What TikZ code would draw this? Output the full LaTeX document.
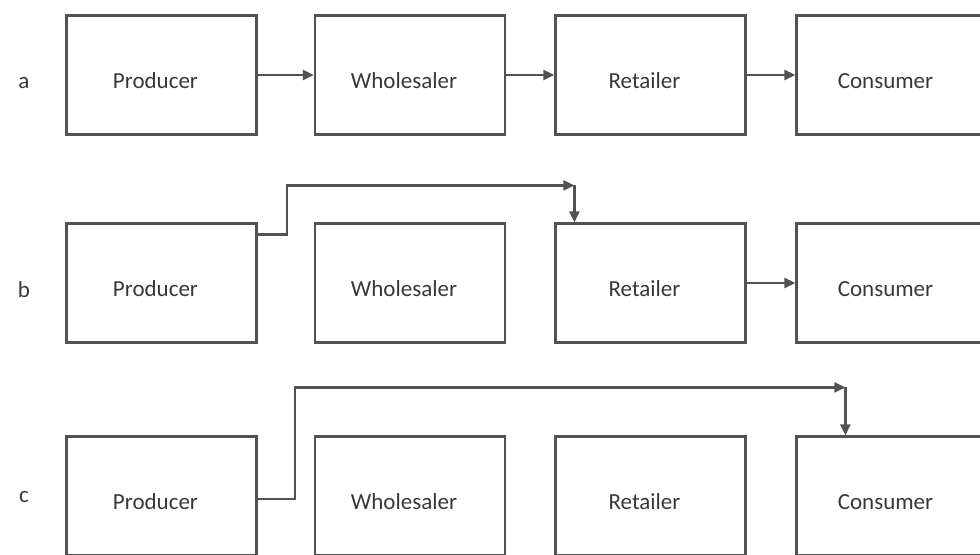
\documentclass[tikz,border=0pt]{standalone}
\usepackage{fontspec}
\setmainfont{Carlito}
\usetikzlibrary{calc, positioning}
\usetikzlibrary{arrows.meta}

\newcommand{\stagename}[1]{\raisebox{-6.5pt}[0pt][0pt]{#1}\kern6pt}

\begin{document}
\begin{tikzpicture}[x=0.5pt,y=0.5pt]
\def\boxwidth{95pt}
\def\boxheight{59.5pt}
\colorlet{chainline}{black!68}
\colorlet{chaintext}{black!78}
\tikzset{
  stagebox/.style={draw=chainline, line width=1.1pt, minimum width=\boxwidth,
    minimum height=\boxheight, inner sep=0pt, text=chaintext,
    font=\fontsize{11.5}{14}\selectfont},
  rowlabel/.style={text=chaintext, font=\fontsize{11.5}{14}\selectfont},
  flow/.style={draw=chainline, line width=1.1pt,
    -{Triangle[length=5.5pt,width=5pt]}}
}
\useasboundingbox (0,0) rectangle (980,554);

% row a
\node[rowlabel] (la) at (24,471) {a};
\node[stagebox] (pa) at (161.5,479) {\stagename{Producer}};
\node[stagebox] (wa) at (410,479) {\stagename{Wholesaler}};
\node[stagebox] (ra) at (650.5,479) {\stagename{Retailer}};
\node[stagebox] (ca) at (891.5,479) {\stagename{Consumer}};

\draw[flow] (pa) -- (wa);
\draw[flow] (wa) -- (ra);
\draw[flow] (ra) -- (ca);

% row b
\node[rowlabel] (lb) at (24,264) {b};
\node[stagebox] (pb) at (161.5,271) {\stagename{Producer}};
\node[stagebox] (wb) at (410,271) {\stagename{Wholesaler}};
\node[stagebox] (rb) at (650.5,271) {\stagename{Retailer}};
\node[stagebox] (cb) at (891.5,271) {\stagename{Consumer}};

\draw[flow] (rb) -- (cb);
\coordinate (bcorner) at ($(rb.north west)+(20,37)$);
\draw[flow] ($(pb.north east)+(0,-12)$) -- ++(29,0) |- (bcorner);
\draw[flow] (bcorner) -- (bcorner |- rb.north);

% row c
\node[rowlabel] (lc) at (24,57) {c};
\node[stagebox] (pc) at (161.5,58) {\stagename{Producer}};
\node[stagebox] (wc) at (410,58) {\stagename{Wholesaler}};
\node[stagebox] (rc) at (650.5,58) {\stagename{Retailer}};
\node[stagebox] (cc) at (891.5,58) {\stagename{Consumer}};

\coordinate (ccorner) at ($(cc.north west)+(50,48)$);
\draw[flow] ($(pc.east)+(0,-3)$) -- ++(37,0) |- (ccorner);
\draw[flow] (ccorner) -- (ccorner |- cc.north);
\end{tikzpicture}
\end{document}
